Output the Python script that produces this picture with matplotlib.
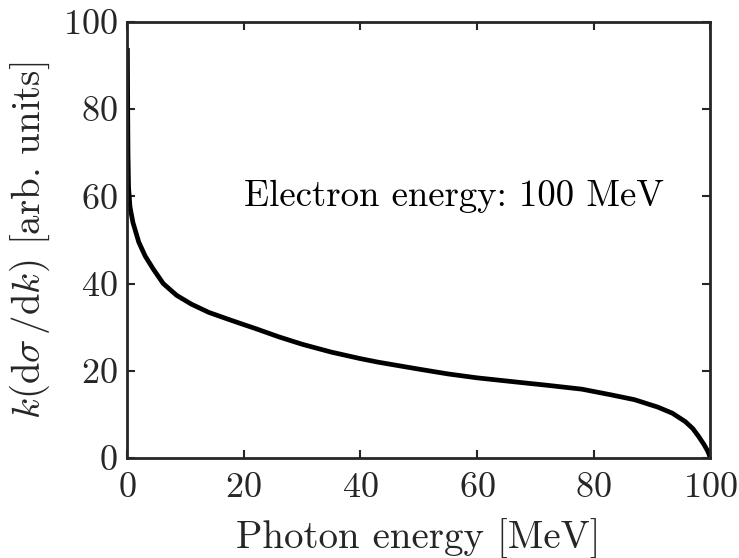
import numpy as np
import matplotlib.pyplot as plt

plt.rcParams['font.family'] = 'cmr10'
plt.rcParams['mathtext.fontset'] = 'cm'
plt.rcParams['axes.formatter.use_mathtext'] = True

# Photon energy [MeV] and k(dsigma/dk)
photon_energy = [0.05, 0.1, 0.15, 0.25, 0.5, 1.0, 2.0, 3.1, 4.5, 6.2, 8.5, 11, 14, 17.6,
                 20, 22, 26, 30, 35, 40, 43, 50, 55, 60, 67, 72, 78, 83, 87, 91,
                 93.5, 95.7, 97, 98.0, 98.9, 99.5, 99.8, 100]
spectrum = [94, 80, 70, 62, 57.5, 54, 49.5, 46.3, 43.3, 40, 37.3, 35.3, 33.4, 31.7,
            30.6, 29.7, 27.8, 26.1, 24.3, 22.8, 22.0, 20.4, 19.3, 18.4, 17.4, 16.7, 15.8, 14.5, 13.4, 11.7,
            10.3, 8.4, 6.8, 5.0, 3.2, 1.8, 0.9, 0]

xticks = [0, 20, 40, 60, 80, 100]
yticks = [0, 20, 40, 60, 80, 100]

fig = plt.figure(figsize=(7.39, 5.58), dpi=100)
ax = fig.add_axes([0.172, 0.179, 0.789, 0.782])

ax.plot(photon_energy, spectrum, color='black', linewidth=3.4, solid_capstyle='butt')

ax.text(20, 60, 'Electron energy: 100 MeV', fontsize=26.5, ha='left', va='center')

ax.set_xlim(0, 100)
ax.set_ylim(0, 100)
ax.set_xticks(xticks)
ax.set_yticks(yticks)
ax.set_xlabel('Photon energy [MeV]', fontsize=28, color='#262626', labelpad=11)
ax.set_ylabel(r'$k(\mathrm{d}\sigma\,/\mathrm{d}k)$ [arb. units]', fontsize=28,
              color='#262626', labelpad=8)

ax.tick_params(direction='in', length=6, width=1.5, labelsize=26, colors='#262626',
               top=True, right=True)
ax.tick_params(axis='x', pad=10)
ax.tick_params(axis='y', pad=7)
for s in ax.spines.values():
    s.set_linewidth(2)
    s.set_color('#262626')

plt.savefig('out.png', dpi=100)
